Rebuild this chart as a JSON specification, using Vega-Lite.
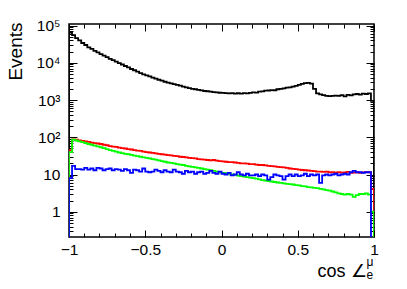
{
  "$schema": "https://vega.github.io/schema/vega-lite/v6.json",
  "width": 305,
  "height": 213,
  "autosize": {"type": "none"},
  "padding": {"left": 69, "top": 24, "right": 33, "bottom": 52},
  "background": "white",
  "config": {
    "view": {"stroke": "black", "strokeWidth": 1.5},
    "axis": {"grid": false, "domain": false, "tickColor": "black", "tickWidth": 1, "labelColor": "black", "titleColor": "black", "labelFont": "Liberation Sans", "titleFont": "Liberation Sans", "titleFontWeight": "normal"}
  },
  "data": {"values": [
    {"i":0,"x":-1,"k":0.01,"r":0.01,"g":0.01,"b":0.01},
    {"i":1,"x":-1,"k":65000,"r":45,"g":40,"b":8},
    {"i":2,"x":-0.98,"k":55000,"r":88,"g":86,"b":17},
    {"i":3,"x":-0.96,"k":46000,"r":86,"g":82,"b":14},
    {"i":4,"x":-0.94,"k":40000,"r":82,"g":78,"b":14},
    {"i":5,"x":-0.92,"k":34000,"r":80,"g":74,"b":13.5},
    {"i":6,"x":-0.90,"k":30000,"r":77,"g":70,"b":15},
    {"i":7,"x":-0.88,"k":26000,"r":75,"g":66,"b":13.5},
    {"i":8,"x":-0.86,"k":23500,"r":72,"g":63,"b":14.5},
    {"i":9,"x":-0.84,"k":21000,"r":70,"g":60,"b":13},
    {"i":10,"x":-0.82,"k":19000,"r":68,"g":57,"b":15},
    {"i":11,"x":-0.80,"k":17000,"r":66,"g":54,"b":14.5},
    {"i":12,"x":-0.78,"k":15500,"r":63,"g":51,"b":13},
    {"i":13,"x":-0.76,"k":14200,"r":61,"g":48,"b":14},
    {"i":14,"x":-0.74,"k":12800,"r":58,"g":45,"b":14.5},
    {"i":15,"x":-0.72,"k":11800,"r":56,"g":43,"b":13},
    {"i":16,"x":-0.70,"k":10800,"r":55,"g":41,"b":14},
    {"i":17,"x":-0.68,"k":9800,"r":53,"g":39,"b":13.5},
    {"i":18,"x":-0.66,"k":9000,"r":51,"g":37.5,"b":12.5},
    {"i":19,"x":-0.64,"k":8200,"r":50,"g":36,"b":14},
    {"i":20,"x":-0.62,"k":7500,"r":48,"g":35,"b":13},
    {"i":21,"x":-0.60,"k":6800,"r":47,"g":33.5,"b":11},
    {"i":22,"x":-0.58,"k":6300,"r":45,"g":32,"b":13.5},
    {"i":23,"x":-0.56,"k":5800,"r":44,"g":31,"b":13},
    {"i":24,"x":-0.54,"k":5300,"r":43,"g":30,"b":12},
    {"i":25,"x":-0.52,"k":4900,"r":41,"g":29,"b":14.5},
    {"i":26,"x":-0.50,"k":4600,"r":40,"g":28,"b":12},
    {"i":27,"x":-0.48,"k":4300,"r":39,"g":27,"b":11.5},
    {"i":28,"x":-0.46,"k":4000,"r":38,"g":26,"b":12},
    {"i":29,"x":-0.44,"k":3750,"r":37,"g":25,"b":13.5},
    {"i":30,"x":-0.42,"k":3500,"r":36,"g":24,"b":12.5},
    {"i":31,"x":-0.40,"k":3300,"r":35,"g":23,"b":11.5},
    {"i":32,"x":-0.38,"k":3100,"r":34,"g":22,"b":13},
    {"i":33,"x":-0.36,"k":2950,"r":33,"g":21,"b":12},
    {"i":34,"x":-0.34,"k":2800,"r":32.5,"g":20.5,"b":11.5},
    {"i":35,"x":-0.32,"k":2680,"r":31.5,"g":20,"b":13.5},
    {"i":36,"x":-0.30,"k":2550,"r":31,"g":19,"b":12},
    {"i":37,"x":-0.28,"k":2450,"r":30,"g":18.5,"b":11.5},
    {"i":38,"x":-0.26,"k":2300,"r":29.5,"g":18,"b":10.5},
    {"i":39,"x":-0.24,"k":2200,"r":29,"g":17,"b":12.5},
    {"i":40,"x":-0.22,"k":2100,"r":28,"g":16.5,"b":11.5},
    {"i":41,"x":-0.20,"k":2000,"r":27.5,"g":16,"b":12},
    {"i":42,"x":-0.18,"k":1950,"r":27,"g":15.5,"b":10.5},
    {"i":43,"x":-0.16,"k":1880,"r":26,"g":15,"b":11.5},
    {"i":44,"x":-0.14,"k":1820,"r":25.5,"g":14.5,"b":12},
    {"i":45,"x":-0.12,"k":1750,"r":25,"g":14,"b":10.5},
    {"i":46,"x":-0.10,"k":1720,"r":24.5,"g":13.5,"b":11},
    {"i":47,"x":-0.08,"k":1680,"r":24,"g":13,"b":12.5},
    {"i":48,"x":-0.06,"k":1640,"r":24.5,"g":12.5,"b":11},
    {"i":49,"x":-0.04,"k":1600,"r":23.5,"g":12,"b":10.5},
    {"i":50,"x":-0.02,"k":1570,"r":23,"g":11.5,"b":12},
    {"i":51,"x":0,"k":1550,"r":22.5,"g":11,"b":10.5},
    {"i":52,"x":0.02,"k":1530,"r":22,"g":10.8,"b":10},
    {"i":53,"x":0.04,"k":1500,"r":21.5,"g":10.4,"b":11},
    {"i":54,"x":0.06,"k":1530,"r":21.5,"g":10,"b":9.5},
    {"i":55,"x":0.08,"k":1480,"r":21,"g":9.8,"b":10},
    {"i":56,"x":0.10,"k":1520,"r":20.5,"g":9.4,"b":11.5},
    {"i":57,"x":0.12,"k":1490,"r":20,"g":9.1,"b":10},
    {"i":58,"x":0.14,"k":1540,"r":20,"g":8.8,"b":9.5},
    {"i":59,"x":0.16,"k":1500,"r":19.5,"g":8.5,"b":10.5},
    {"i":60,"x":0.18,"k":1560,"r":19,"g":8.3,"b":9.5},
    {"i":61,"x":0.20,"k":1600,"r":19,"g":8,"b":9.5},
    {"i":62,"x":0.22,"k":1580,"r":18.5,"g":7.8,"b":10},
    {"i":63,"x":0.24,"k":1680,"r":18,"g":7.4,"b":9},
    {"i":64,"x":0.26,"k":1700,"r":18,"g":7.1,"b":10},
    {"i":65,"x":0.28,"k":1780,"r":17.5,"g":6.9,"b":9.5},
    {"i":66,"x":0.30,"k":1800,"r":17,"g":6.7,"b":7.3},
    {"i":67,"x":0.32,"k":1850,"r":16.8,"g":6.5,"b":8.5},
    {"i":68,"x":0.34,"k":1830,"r":16.5,"g":6.3,"b":10},
    {"i":69,"x":0.36,"k":1950,"r":16,"g":6.1,"b":9.5},
    {"i":70,"x":0.38,"k":2000,"r":15.8,"g":6.0,"b":9},
    {"i":71,"x":0.40,"k":2050,"r":15.5,"g":5.8,"b":7.3},
    {"i":72,"x":0.42,"k":2150,"r":15,"g":5.6,"b":9},
    {"i":73,"x":0.44,"k":2200,"r":14.5,"g":5.5,"b":10},
    {"i":74,"x":0.46,"k":2300,"r":14.2,"g":5.4,"b":9},
    {"i":75,"x":0.48,"k":2400,"r":14,"g":5.2,"b":10},
    {"i":76,"x":0.50,"k":2550,"r":13.5,"g":5.1,"b":9},
    {"i":77,"x":0.52,"k":2700,"r":13.2,"g":4.9,"b":9.5},
    {"i":78,"x":0.54,"k":2850,"r":13,"g":4.8,"b":10.5},
    {"i":79,"x":0.56,"k":2900,"r":12.8,"g":4.6,"b":9},
    {"i":80,"x":0.58,"k":2750,"r":12.5,"g":4.5,"b":10},
    {"i":81,"x":0.60,"k":2000,"r":12.3,"g":4.4,"b":9.5},
    {"i":82,"x":0.62,"k":1500,"r":12,"g":4.3,"b":10},
    {"i":83,"x":0.64,"k":1420,"r":12,"g":4.1,"b":6},
    {"i":84,"x":0.66,"k":1350,"r":11.8,"g":4.0,"b":9.5},
    {"i":85,"x":0.68,"k":1300,"r":12,"g":3.8,"b":10},
    {"i":86,"x":0.70,"k":1280,"r":11.5,"g":3.7,"b":9.5},
    {"i":87,"x":0.72,"k":1300,"r":11.6,"g":3.5,"b":10},
    {"i":88,"x":0.74,"k":1320,"r":11.3,"g":3.3,"b":10.5},
    {"i":89,"x":0.76,"k":1290,"r":11.5,"g":3.1,"b":9.5},
    {"i":90,"x":0.78,"k":1350,"r":11.2,"g":3.0,"b":10},
    {"i":91,"x":0.80,"k":1260,"r":11.4,"g":2.9,"b":10.5},
    {"i":92,"x":0.82,"k":1380,"r":11.8,"g":3.0,"b":10},
    {"i":93,"x":0.84,"k":1330,"r":11,"g":2.9,"b":11.5},
    {"i":94,"x":0.86,"k":1420,"r":11.3,"g":2.5,"b":12.5},
    {"i":95,"x":0.88,"k":1450,"r":11.5,"g":2.8,"b":11.5},
    {"i":96,"x":0.90,"k":1400,"r":11,"g":3.0,"b":11.5},
    {"i":97,"x":0.92,"k":1480,"r":11.4,"g":3.0,"b":11},
    {"i":98,"x":0.94,"k":1450,"r":11.6,"g":3.1,"b":11.5},
    {"i":99,"x":0.96,"k":1500,"r":11.5,"g":2.9,"b":11.5},
    {"i":100,"x":0.98,"k":950,"r":4.1,"g":1.0,"b":0.01},
    {"i":101,"x":1,"k":950,"r":4.1,"g":1.0,"b":0.01},
    {"i":102,"x":1,"k":0.01,"r":0.01,"g":0.01,"b":0.01}
  ]},
  "resolve": {"axis": {"x": "independent", "y": "independent"}},
  "layer": [
    {
      "mark": {"type": "line", "interpolate": "step-after", "color": "black", "strokeWidth": 1.8, "clip": true},
      "encoding": {
        "order": {"field": "i", "type": "quantitative"},
        "x": {"field": "x", "type": "quantitative", "scale": {"domain": [-1, 1], "nice": false, "zero": false},
          "axis": {"orient": "bottom", "values": [-1, -0.5, 0, 0.5, 1], "format": "~g", "ticks": false, "labelFlush": false, "labelFontSize": 15.5, "labelPadding": 5,
            "title": "cos ∠", "titleFontSize": 18, "titleX": 248, "titleY": 39, "titleAlign": "left", "titleBaseline": "alphabetic", "titleAnchor": null}},
        "y": {"field": "k", "type": "quantitative", "scale": {"type": "log", "domain": [0.21, 110000], "nice": false},
          "axis": {"orient": "left", "values": [1, 10, 100, 1000, 10000, 100000], "ticks": false, "labelFlush": false, "labelFontSize": 15.5, "labelPadding": 9,
            "labelExpr": "datum.value == 1 ? '1' : datum.value == 10 ? '10' : datum.value == 100 ? '10²' : datum.value == 1000 ? '10³' : datum.value == 10000 ? '10⁴' : '10⁵'",
            "title": "Events", "titleFontSize": 19, "titleX": -54, "titleY": -2, "titleAngle": 270, "titleAlign": "right", "titleBaseline": "middle"}}
      }
    },
    {
      "mark": {"type": "line", "interpolate": "step-after", "color": "#ff0000", "strokeWidth": 1.8, "clip": true},
      "encoding": {
        "order": {"field": "i", "type": "quantitative"},
        "x": {"field": "x", "type": "quantitative",
          "axis": {"orient": "bottom", "values": [-1, -0.5, 0, 0.5, 1], "labels": false, "tickSize": -7,
            "title": "μ", "titleFontSize": 12, "titleX": 297, "titleY": 28, "titleAlign": "left", "titleBaseline": "alphabetic"}},
        "y": {"field": "r", "type": "quantitative",
          "axis": {"orient": "left", "values": [1, 10, 100, 1000, 10000, 100000], "labels": false, "tickSize": -8, "title": null}}
      }
    },
    {
      "mark": {"type": "line", "interpolate": "step-after", "color": "#00ff00", "strokeWidth": 1.8, "clip": true},
      "encoding": {
        "order": {"field": "i", "type": "quantitative"},
        "x": {"field": "x", "type": "quantitative",
          "axis": {"orient": "bottom", "values": [-0.9, -0.8, -0.7, -0.6, -0.4, -0.3, -0.2, -0.1, 0.1, 0.2, 0.3, 0.4, 0.6, 0.7, 0.8, 0.9], "labels": false, "tickSize": -4,
            "title": "e", "titleFontSize": 12, "titleX": 297, "titleY": 41, "titleAlign": "left", "titleBaseline": "alphabetic"}},
        "y": {"field": "g", "type": "quantitative",
          "axis": {"orient": "left", "values": [0.3, 0.4, 0.5, 0.6, 0.7, 0.8, 0.9, 2, 3, 4, 5, 6, 7, 8, 9, 20, 30, 40, 50, 60, 70, 80, 90, 200, 300, 400, 500, 600, 700, 800, 900, 2000, 3000, 4000, 5000, 6000, 7000, 8000, 9000, 20000, 30000, 40000, 50000, 60000, 70000, 80000, 90000], "labels": false, "tickSize": -4, "title": null}}
      }
    },
    {
      "mark": {"type": "line", "interpolate": "step-after", "color": "#0000ff", "strokeWidth": 1.8, "clip": true},
      "encoding": {
        "order": {"field": "i", "type": "quantitative"},
        "x": {"field": "x", "type": "quantitative",
          "axis": {"orient": "top", "values": [-1, -0.5, 0, 0.5, 1], "labels": false, "tickSize": -7, "title": null}},
        "y": {"field": "b", "type": "quantitative",
          "axis": {"orient": "right", "values": [1, 10, 100, 1000, 10000, 100000], "labels": false, "tickSize": -8, "title": null}}
      }
    },
    {
      "mark": {"type": "point", "opacity": 0},
      "encoding": {
        "x": {"field": "x", "type": "quantitative",
          "axis": {"orient": "top", "values": [-0.9, -0.8, -0.7, -0.6, -0.4, -0.3, -0.2, -0.1, 0.1, 0.2, 0.3, 0.4, 0.6, 0.7, 0.8, 0.9], "labels": false, "tickSize": -4, "title": null}},
        "y": {"field": "k", "type": "quantitative",
          "axis": {"orient": "right", "values": [0.3, 0.4, 0.5, 0.6, 0.7, 0.8, 0.9, 2, 3, 4, 5, 6, 7, 8, 9, 20, 30, 40, 50, 60, 70, 80, 90, 200, 300, 400, 500, 600, 700, 800, 900, 2000, 3000, 4000, 5000, 6000, 7000, 8000, 9000, 20000, 30000, 40000, 50000, 60000, 70000, 80000, 90000], "labels": false, "tickSize": -4, "title": null}}
      }
    }
  ]
}
